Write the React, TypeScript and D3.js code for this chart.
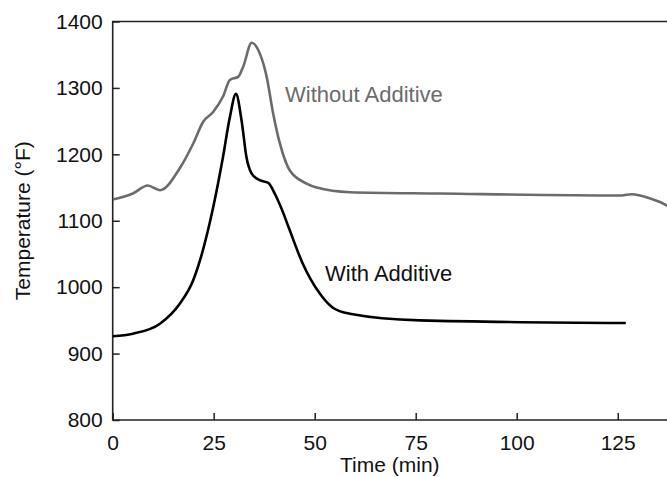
import * as React from 'react';
import * as d3 from 'd3';

// time (min) / temperature (°F)
const withoutTime = [0, 5, 8.7, 11.7, 16.6, 19.9, 22.4, 24.9, 27.3, 29.0, 31.1, 32.3, 34.4, 36.4, 38.1, 39.7, 41.4, 43.8, 48.0, 50.5, 58.7, 81, 126, 128.4, 132.9, 137.1, 139];
const withoutTemp = [1132, 1141, 1153, 1146, 1179, 1216, 1249, 1264, 1287, 1312, 1317, 1332, 1368, 1352, 1317, 1262, 1216, 1176, 1156, 1150, 1143, 1141, 1138, 1140, 1134, 1123, 1114];

const withTime = [0, 5, 11.7, 16.6, 19.9, 22.3, 23.6, 24.9, 27.3, 29.0, 30.5, 31.9, 33.1, 34.4, 36.4, 38.5, 40.1, 41.8, 43.8, 47.0, 51.3, 54.5, 58.7, 76, 127];
const withTemp = [926, 930, 945, 975, 1010, 1055, 1086, 1121, 1196, 1256, 1291, 1251, 1196, 1171, 1161, 1157, 1141, 1118, 1086, 1036, 990, 969, 960, 950, 946];

const xTicks = [0, 25, 50, 75, 100, 125];
const yTicks = [800, 900, 1000, 1100, 1200, 1300, 1400];

const font = '"Liberation Sans", Arial, sans-serif';

const renderChart = (node: SVGSVGElement) => {
  const svg = d3.select(node);
  svg.selectAll('*').remove();

  const left = 112.7;
  const top = 21.5;
  const bottom = 420;
  const right = 667;

  const x = d3.scaleLinear().domain([0, 137.2]).range([left, right]);
  const y = d3.scaleLinear().domain([800, 1400]).range([bottom, top]);

  svg.append('defs').append('clipPath').attr('id', 'plot-clip')
    .append('rect')
    .attr('x', left).attr('y', top - 5)
    .attr('width', right - left).attr('height', bottom - top + 5);

  // frame: left, bottom, top
  svg.append('path')
    .attr('d', `M${right},${top}H${left}V${bottom}H${right}`)
    .attr('fill', 'none')
    .attr('stroke', '#222')
    .attr('stroke-width', 1.6);

  const xAxis = svg.append('g')
    .attr('transform', `translate(0,${bottom})`)
    .call(d3.axisBottom(x).tickValues(xTicks).tickSize(-7).tickPadding(15).tickFormat(d3.format('d')));
  const yAxis = svg.append('g')
    .attr('transform', `translate(${left},0)`)
    .call(d3.axisLeft(y).tickValues(yTicks).tickSize(-7).tickPadding(10).tickFormat(d3.format('d')));

  [xAxis, yAxis].forEach((g) => {
    g.select('.domain').remove();
    g.selectAll('line').attr('stroke', '#222').attr('stroke-width', 1.5);
    g.selectAll('text')
      .attr('fill', '#111')
      .style('font-family', font)
      .style('font-size', '21px');
  });

  // lines
  const line = d3.line<[number, number]>()
    .x(d => x(d[0]))
    .y(d => y(d[1]))
    .curve(d3.curveMonotoneX);

  const withoutData: Array<[number, number]> = withoutTime.map((t, i) => [t, withoutTemp[i]]);
  const withData: Array<[number, number]> = withTime.map((t, i) => [t, withTemp[i]]);

  const plot = svg.append('g').attr('clip-path', 'url(#plot-clip)');
  plot.append('path')
    .datum(withoutData)
    .attr('d', line)
    .attr('fill', 'none')
    .attr('stroke', '#6b6b6b')
    .attr('stroke-width', 2.6);
  plot.append('path')
    .datum(withData)
    .attr('d', line)
    .attr('fill', 'none')
    .attr('stroke', '#000')
    .attr('stroke-width', 2.6);

  // annotations
  svg.append('text')
    .attr('x', 285).attr('y', 101.5)
    .attr('fill', '#6b6b6b')
    .style('font-family', font).style('font-size', '22px')
    .text('Without Additive');
  svg.append('text')
    .attr('x', 325).attr('y', 281)
    .attr('fill', '#111')
    .style('font-family', font).style('font-size', '22px')
    .text('With Additive');

  // axis titles
  svg.append('text')
    .attr('text-anchor', 'middle')
    .attr('transform', `translate(30,${(top + bottom) / 2}) rotate(-90)`)
    .attr('fill', '#111')
    .style('font-family', font).style('font-size', '21px')
    .text('Temperature (°F)');
  svg.append('text')
    .attr('text-anchor', 'middle')
    .attr('x', (left + right) / 2).attr('y', 472)
    .attr('fill', '#111')
    .style('font-family', font).style('font-size', '21px')
    .text('Time (min)');
};

const App = () => {
  const ref = React.useRef<SVGSVGElement>(null);
  React.useEffect(() => {
    if (ref.current) renderChart(ref.current);
  }, []);
  return (
    <svg
      ref={ref}
      width={667}
      height={477}
      style={{ position: 'absolute', left: 0, top: 0, background: '#fff' }}
    />
  );
};

export default App;
